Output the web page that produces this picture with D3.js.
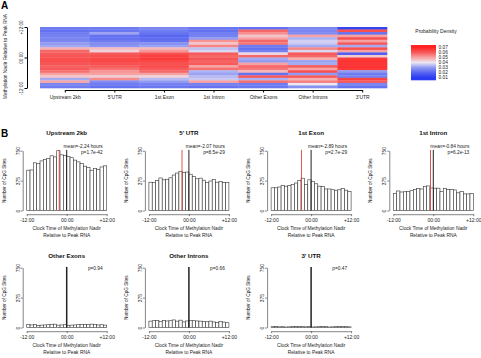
<!DOCTYPE html>
<html>
<head>
<meta charset="utf-8">
<script src="https://cdn.jsdelivr.net/npm/d3@7"></script>
<style>
  body { margin: 0; background: #fff; }
  svg { display: block; font-family: "Liberation Sans", Arial, sans-serif; }
</style>
</head>
<body>
<div id="chart"></div>
<script>
// Panel A – heatmap of probability density per region
const regions = ["Upstream 2kb", "5'UTR", "1st Exon", "1st Intron", "Other Exons", "Other Introns", "3'UTR"];
// rows run from +12:00 (top) down to -12:00 (bottom), one per hour
const densUpstream = [0.024,0.022,0.024,0.025,0.026,0.026,0.030,0.032,0.048,0.058,0.060,0.061,0.062,0.063,0.061,0.059,0.060,0.057,0.050,0.045,0.032,0.049,0.026,0.024];
const densUTR5 = [0.024,0.023,0.031,0.022,0.022,0.024,0.027,0.029,0.046,0.043,0.060,0.062,0.063,0.064,0.062,0.060,0.057,0.052,0.050,0.044,0.053,0.027,0.024,0.022];
const densExon1 = [0.026,0.024,0.022,0.020,0.021,0.022,0.028,0.031,0.047,0.052,0.062,0.065,0.066,0.064,0.062,0.063,0.060,0.058,0.050,0.043,0.034,0.030,0.025,0.023];
const densIntron1 = [0.023,0.022,0.024,0.025,0.030,0.052,0.045,0.054,0.035,0.038,0.060,0.058,0.061,0.059,0.060,0.050,0.057,0.033,0.031,0.034,0.036,0.050,0.025,0.022];
const densOtherExons = [0.022,0.058,0.053,0.045,0.050,0.058,0.056,0.024,0.022,0.025,0.042,0.058,0.032,0.030,0.050,0.058,0.056,0.047,0.022,0.060,0.033,0.057,0.024,0.023];
const densOtherIntrons = [0.026,0.026,0.027,0.050,0.033,0.037,0.036,0.032,0.054,0.038,0.060,0.058,0.048,0.031,0.032,0.060,0.050,0.062,0.030,0.060,0.048,0.055,0.040,0.028];
const densUTR3 = [0.012,0.062,0.022,0.050,0.062,0.050,0.060,0.032,0.062,0.050,0.018,0.044,0.066,0.068,0.067,0.068,0.066,0.030,0.024,0.025,0.064,0.060,0.026,0.022];
const legendTicks = [0.07, 0.06, 0.05, 0.04, 0.03, 0.02, 0.01];

// Panel B – histograms, 24 one-hour bins from -12:00 to +12:00
const histTitles = ["Upstream 2kb", "5' UTR", "1st Exon", "1st Intron", "Other Exons", "Other Introns", "3' UTR"];
const countsUpstream = [506,508,598,588,622,640,650,686,672,750,698,690,676,662,632,610,588,556,540,505,528,515,546,560];
const countsUTR5 = [355,350,378,408,385,392,410,445,470,492,475,482,455,428,398,406,380,352,370,390,355,365,352,350];
const countsExon1 = [285,285,295,315,305,315,328,345,375,405,325,385,365,335,305,300,270,270,260,255,260,275,255,240];
const countsIntron1 = [215,245,232,235,240,248,265,278,270,300,308,282,280,280,238,278,266,262,258,222,240,208,208,215];
const countsOtherExons = [40,32,38,25,30,32,35,38,42,30,32,35,28,30,32,35,38,40,35,42,38,32,35,30];
const countsOtherIntrons = [80,85,90,75,88,82,85,95,80,92,70,82,90,85,82,80,75,72,80,70,65,75,68,60];
const countsUTR3 = [10,12,8,10,6,8,15,12,14,10,8,12,6,8,10,12,10,6,8,10,12,15,10,8];
const meanHours = [-2.24, -2.07, -2.89, -0.84, null, null, null];
const pLabels = ["p=1.7e-42", "p=8.5e-29", "p=2.7e-29", "p=6.2e-13", "p=0.94", "p=0.66", "p=0.47"];
const yTicks = [0, 375, 750];
const xTicks = [-12, 0, 12];
const xTickLabels = ["-12:00", "00:00", "+12:00"];

const densities = [densUpstream, densUTR5, densExon1, densIntron1, densOtherExons, densOtherIntrons, densUTR3];
const counts = [countsUpstream, countsUTR5, countsExon1, countsIntron1, countsOtherExons, countsOtherIntrons, countsUTR3];

const W = 481, H = 358;
const svg = d3.select("#chart").append("svg").attr("width", W).attr("height", H);

const color = d3.scaleLinear()
  .domain([0.01, 0.02, 0.03, 0.04, 0.05, 0.06, 0.07])
  .range(["#2c3cf2", "#5867f0", "#929bf2", "#ece6f2", "#f7a2a2", "#f65a5a", "#ff2424"])
  .clamp(true);

// ---------- Panel A ----------
svg.append("text").attr("x", 1).attr("y", 9)
  .style("font-size", "10px").style("font-weight", "bold").text("A");

const hm = { left: 40, right: 387, top: 27, bottom: 88 };
const hx = d3.scaleBand().domain(regions).range([hm.left, hm.right]);
const hours = d3.range(24);
const hy = d3.scaleBand().domain(hours).range([hm.top, hm.bottom]);

regions.forEach((r, i) => {
  svg.append("g").selectAll("rect")
    .data(densities[i])
    .enter()
    .append("rect")
    .attr("x", hx(r))
    .attr("y", (d, j) => hy(j))
    .attr("width", hx.bandwidth() + 0.3)
    .attr("height", hy.bandwidth() + 0.3)
    .attr("fill", d => color(d));
});

// x axis of heatmap: line only between first and last tick, like R
const hxPoint = d3.scalePoint().domain(regions)
  .range([hx(regions[0]) + hx.bandwidth() / 2, hx(regions[6]) + hx.bandwidth() / 2]);
const hxAxis = svg.append("g")
  .attr("transform", `translate(0,${hm.bottom + 2})`)
  .call(d3.axisBottom(hxPoint).tickSize(2.5).tickSizeOuter(0).tickPadding(3));
hxAxis.selectAll("text").style("font-size", "5px").style("fill", "#222");

const hyScale = d3.scaleLinear().domain([12, -12]).range([hm.top, hm.bottom]);
const hyAxis = svg.append("g")
  .attr("transform", `translate(${hm.left - 13},0)`)
  .call(d3.axisLeft(hyScale).tickValues([12, 0, -12]).tickSize(2.5).tickSizeOuter(0)
    .tickFormat(d => d > 0 ? "+12:00" : d < 0 ? "-12:00" : "00:00"));
hyAxis.selectAll("text")
  .attr("x", null).attr("dy", null)
  .attr("transform", "translate(-4,0) rotate(-90)")
  .attr("text-anchor", "middle")
  .style("font-size", "4.6px").style("fill", "#222");
svg.append("text")
  .attr("transform", `translate(7,${(hm.top + hm.bottom) / 2 - 1}) rotate(-90)`)
  .attr("text-anchor", "middle")
  .style("font-size", "4.8px").style("fill", "#222")
  .text("Methylation Nadir Relative to Peak RNA");

// legend
const lg = { x: 411, y: 45, w: 25, h: 35 };
svg.append("text").attr("x", 436).attr("y", 32.5).attr("text-anchor", "middle")
  .style("font-size", "5px").style("fill", "#222").text("Probability Density");
const ly = d3.scaleLinear().domain([0.075, 0.005]).range([lg.y, lg.y + lg.h]);
const legendSteps = d3.range(0.075, 0.005, -0.002);
svg.append("g").selectAll("rect")
  .data(legendSteps)
  .enter()
  .append("rect")
  .attr("x", lg.x)
  .attr("y", d => ly(d))
  .attr("width", lg.w)
  .attr("height", ly(0.073) - ly(0.075) + 0.3)
  .attr("fill", d => color(d - 0.001));
svg.append("g").selectAll("text")
  .data(legendTicks)
  .enter()
  .append("text")
  .attr("x", lg.x + lg.w + 2.5)
  .attr("y", d => ly(d) + 1.7)
  .style("font-size", "4.8px").style("fill", "#222")
  .text(d => d.toFixed(2));

// ---------- Panel B ----------
svg.append("text").attr("x", 1).attr("y", 137)
  .style("font-size", "10px").style("font-weight", "bold").text("B");

const colX = [26.7, 148.9, 271.1, 393.3];
const rowTop = [150.7, 267.7];
const plotW = 80, plotH = 59.8;
const titleY = [135, 257.5];

histTitles.forEach((t, i) => {
  const row = i < 4 ? 0 : 1;
  const col = i < 4 ? i : i - 4;
  const x0 = colX[col];
  const top = rowTop[row];
  const g = svg.append("g");

  const x = d3.scaleLinear().domain([-12, 12]).range([x0, x0 + plotW]);
  const y = d3.scaleLinear().domain([0, 750]).range([top + plotH, top]);

  // bars
  g.selectAll("rect")
    .data(counts[i])
    .enter()
    .append("rect")
    .attr("x", (d, j) => x(j - 12))
    .attr("y", d => y(d))
    .attr("width", (d, j) => x(j - 11) - x(j - 12))
    .attr("height", d => y(0) - y(d))
    .attr("fill", "#fff")
    .attr("stroke", "#333")
    .attr("stroke-width", 0.6);

  // mean (red) and zero (black) lines
  if (meanHours[i] !== null) {
    g.append("line")
      .attr("x1", x(meanHours[i])).attr("x2", x(meanHours[i]))
      .attr("y1", y(0)).attr("y2", y(760))
      .attr("stroke", "#d9443e").attr("stroke-width", 0.9);
  }
  g.append("line")
    .attr("x1", x(0)).attr("x2", x(0))
    .attr("y1", y(0)).attr("y2", y(760))
    .attr("stroke", "#222").attr("stroke-width", row === 0 ? 1 : 1.5);

  // axes
  const xa = g.append("g")
    .attr("transform", `translate(0,${y(0) + 3.7})`)
    .call(d3.axisBottom(x).tickValues(xTicks).tickSize(2).tickSizeOuter(0).tickPadding(2)
      .tickFormat((d, k) => xTickLabels[k]));
  xa.selectAll("text").style("font-size", "5px").style("fill", "#222");

  const ya = g.append("g")
    .attr("transform", `translate(${x0 - 4},0)`)
    .call(d3.axisLeft(y).tickValues(yTicks).tickSize(2).tickSizeOuter(0));
  ya.selectAll("text")
    .attr("x", null).attr("dy", null)
    .attr("transform", "translate(-3,0) rotate(-90)")
    .attr("text-anchor", "middle")
    .style("font-size", "5px").style("fill", "#222");

  [xa, ya].forEach(a => {
    a.select(".domain").attr("stroke", "#333").attr("stroke-width", 0.6);
    a.selectAll(".tick line").attr("stroke", "#333").attr("stroke-width", 0.6);
  });

  // labels
  g.append("text")
    .attr("x", x0 + plotW / 2).attr("y", titleY[row])
    .attr("text-anchor", "middle")
    .style("font-size", "6.2px").style("font-weight", "bold").style("fill", "#111")
    .text(t);
  g.append("text")
    .attr("transform", `translate(${x0 - 21},${top + plotH / 2}) rotate(-90)`)
    .attr("text-anchor", "middle")
    .style("font-size", "4.7px").style("fill", "#222")
    .text("Number of CpG Sites");
  g.append("text")
    .attr("x", x0 + plotW / 2).attr("y", y(0) + 19.3)
    .attr("text-anchor", "middle")
    .style("font-size", "4.85px").style("fill", "#222")
    .text("Clock Time of Methylation Nadir");
  g.append("text")
    .attr("x", x0 + plotW / 2).attr("y", y(0) + 26)
    .attr("text-anchor", "middle")
    .style("font-size", "4.85px").style("fill", "#222")
    .text("Relative to Peak RNA");

  if (meanHours[i] !== null) {
    g.append("text")
      .attr("x", x0 + 76).attr("y", top - 3)
      .attr("text-anchor", "end")
      .style("font-size", "4.8px").style("fill", "#222")
      .text(`mean=${meanHours[i].toFixed(2)} hours`);
  }
  g.append("text")
    .attr("x", x0 + 76).attr("y", meanHours[i] !== null ? top + 3 : top + 2.7)
    .attr("text-anchor", "end")
    .style("font-size", "4.8px").style("fill", "#222")
    .text(pLabels[i]);
});
</script>
</body>
</html>
